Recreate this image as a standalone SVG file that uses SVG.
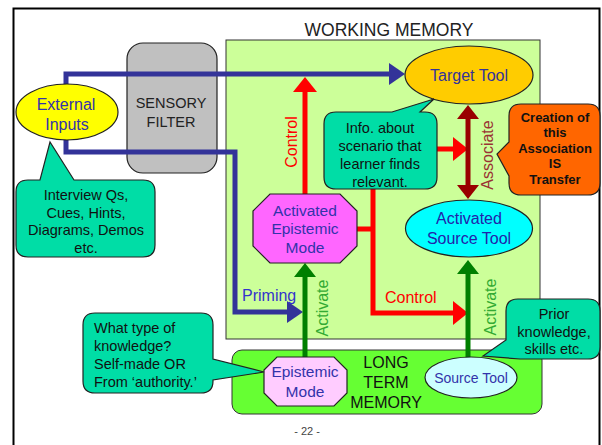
<svg xmlns="http://www.w3.org/2000/svg" width="602" height="445" viewBox="0 0 602 445">
<style>
text{font-family:"Liberation Sans",Arial,sans-serif}
.ol{stroke:#222;stroke-width:1.2}
.call{fill:#00DDA6;stroke:#222;stroke-width:1.2}
.blue{fill:none;stroke:#333399;stroke-width:5}
.red{fill:none;stroke:#FF0000;stroke-width:5}
.dred{fill:none;stroke:#990000;stroke-width:5}
.grn{fill:none;stroke:#007F00;stroke-width:5}
.nt{fill:#3333AA;font-size:16px;text-anchor:middle}
.ct{fill:#111;font-size:14.5px;text-anchor:middle}
</style>
<defs>
<marker id="ab" markerUnits="userSpaceOnUse" markerWidth="16" markerHeight="22" viewBox="0 0 16 22" refX="2" refY="11" orient="auto"><path d="M0,0 L16,11 L0,22 z" fill="#333399"/></marker>
<marker id="ar" markerUnits="userSpaceOnUse" markerWidth="15" markerHeight="24" viewBox="0 0 15 24" refX="2" refY="12" orient="auto"><path d="M0,0 L15,12 L0,24 z" fill="#FF0000"/></marker>
<marker id="ad" markerUnits="userSpaceOnUse" markerWidth="14" markerHeight="22" viewBox="0 0 14 22" refX="2" refY="11" orient="auto-start-reverse"><path d="M0,0 L14,11 L0,22 z" fill="#990000"/></marker>
<marker id="ag" markerUnits="userSpaceOnUse" markerWidth="14" markerHeight="22" viewBox="0 0 14 22" refX="2" refY="11" orient="auto"><path d="M0,0 L14,11 L0,22 z" fill="#007F00"/></marker>
</defs>
<rect x="0" y="0" width="602" height="445" fill="#fff"/>
<rect x="13.5" y="8.5" width="586" height="450" fill="none" stroke="#000" stroke-width="2"/>

<g id="working-memory">
<rect x="226" y="40" width="314" height="299" fill="#CCFF99" stroke="#333" stroke-width="1"/>
<text x="389" y="36" font-size="17.5" text-anchor="middle" fill="#222">WORKING MEMORY</text>
</g>
<g id="long-term-memory">
<rect x="232" y="350" width="310" height="64" rx="10" fill="#66FF33" stroke="#333" stroke-width="1"/>
<text x="386" y="368" font-size="16" text-anchor="middle" fill="#111">LONG</text>
<text x="386" y="388" font-size="16" text-anchor="middle" fill="#111">TERM</text>
<text x="386" y="408" font-size="16" text-anchor="middle" fill="#111">MEMORY</text>
</g>
<g id="sensory-filter">
<rect x="127" y="43" width="90" height="130" rx="16" fill="#C0C0C0" class="ol"/>
<text x="171" y="108" font-size="14.5" text-anchor="middle" fill="#222">SENSORY</text>
<text x="171" y="127" font-size="14.5" text-anchor="middle" fill="#222">FILTER</text>
</g>

<g id="connectors">
<path class="blue" d="M66 88 V74 H391" marker-end="url(#ab)"/>
<path class="blue" d="M66 136 V152 H235 V312 H289" marker-end="url(#ab)"/>
<text x="242" y="301" font-size="16" fill="#3333CC">Priming</text>
<path class="red" d="M305 196 V90" marker-end="url(#ar)"/>
<text transform="translate(297,142) rotate(-90)" font-size="16" text-anchor="middle" fill="#FF0000">Control</text>
<path class="red" d="M355 229 H373"/>
<path class="red" d="M373 187 V313 H455" marker-end="url(#ar)"/>
<text x="385" y="303" font-size="16" fill="#FF0000">Control</text>
<path class="red" d="M435 149 H455" marker-end="url(#ar)"/>
<path class="dred" d="M468 117 V187" marker-start="url(#ad)" marker-end="url(#ad)"/>
<text transform="translate(493,155) rotate(-90)" font-size="16" text-anchor="middle" fill="#993333">Associate</text>
<path class="grn" d="M305 358 V275" marker-end="url(#ag)"/>
<text transform="translate(328,308) rotate(-90)" font-size="16" text-anchor="middle" fill="#33AA33">Activate</text>
<path class="grn" d="M468 358 V272" marker-end="url(#ag)"/>
<text transform="translate(496,307) rotate(-90)" font-size="16" text-anchor="middle" fill="#33AA33">Activate</text>
</g>

<g id="external-inputs">
<ellipse cx="67" cy="112" rx="51" ry="28" fill="#FFFF00" class="ol"/>
<text class="nt" x="66" y="110">External</text>
<text class="nt" x="67" y="130">Inputs</text>
</g>
<g id="inputs-callout">
<path class="call" d="M28 180 H40 L50 142 L74 180 H143 Q155 180 155 192 V245 Q155 257 143 257 H28 Q16 257 16 245 V192 Q16 180 28 180 Z"/>
<text class="ct" x="86" y="200">Interview Qs,</text>
<text class="ct" x="86" y="218">Cues, Hints,</text>
<text class="ct" x="86" y="235">Diagrams, Demos</text>
<text class="ct" x="86" y="253">etc.</text>
</g>
<g id="target-tool">
<ellipse cx="469" cy="75" rx="64" ry="29" fill="#FFCC00" class="ol"/>
<text x="469" y="81" font-size="16" text-anchor="middle" fill="#333399">Target Tool</text>
</g>
<g id="info-callout">
<path class="call" d="M336 112 H392 L434 99 L420 112 H425 Q437 112 437 124 V177 Q437 189 425 189 H336 Q324 189 324 177 V124 Q324 112 336 112 Z"/>
<text class="ct" x="380" y="133">Info. about</text>
<text class="ct" x="380" y="151">scenario that</text>
<text class="ct" x="380" y="169">learner finds</text>
<text class="ct" x="380" y="187">relevant.</text>
</g>
<g id="transfer-callout">
<path d="M521 104 H588 Q600 104 600 116 V183 Q600 195 588 195 H521 Q509 195 509 183 V176 L497 154 L509 142 V116 Q509 104 521 104 Z" fill="#FF6600" class="ol"/>
<g font-size="13" font-weight="bold" text-anchor="middle" fill="#111">
<text x="555" y="122">Creation of</text>
<text x="555" y="137">this</text>
<text x="555" y="153">Association</text>
<text x="555" y="168">IS</text>
<text x="555" y="184">Transfer</text>
</g>
</g>
<g id="activated-epistemic-mode">
<polygon points="270,194 340,194 357,211 357,246 340,263 270,263 253,246 253,211" fill="#FF66FF" class="ol"/>
<text x="305" y="216" font-size="15.5" text-anchor="middle" fill="#3333AA">Activated</text>
<text x="305" y="234" font-size="15.5" text-anchor="middle" fill="#3333AA">Epistemic</text>
<text x="305" y="253" font-size="15.5" text-anchor="middle" fill="#3333AA">Mode</text>
</g>
<g id="activated-source-tool">
<ellipse cx="469" cy="228.5" rx="63.5" ry="28.5" fill="#00FFFF" class="ol"/>
<text x="469" y="224" font-size="16" text-anchor="middle" fill="#2222AA">Activated</text>
<text x="469" y="244" font-size="16" text-anchor="middle" fill="#2222AA">Source Tool</text>
</g>
<g id="prior-callout">
<path class="call" d="M518 299 H588 Q600 299 600 311 V347 Q600 359 588 359 H520 L483 356 L506 340 V311 Q506 299 518 299 Z"/>
<text class="ct" x="554" y="319">Prior</text>
<text class="ct" x="554" y="337">knowledge,</text>
<text class="ct" x="554" y="354">skills etc.</text>
</g>
<g id="epistemic-mode">
<polygon points="277,357 334,357 347,370 347,393 334,406 277,406 264,393 264,370" fill="#FFCCFF" class="ol"/>
<text x="305" y="377" font-size="15.5" text-anchor="middle" fill="#3333AA">Epistemic</text>
<text x="305" y="397" font-size="15.5" text-anchor="middle" fill="#3333AA">Mode</text>
</g>
<g id="source-tool">
<ellipse cx="471" cy="377.5" rx="46" ry="20.5" fill="#CCFFFF" class="ol"/>
<text x="471" y="383" font-size="14" text-anchor="middle" fill="#3333AA">Source Tool</text>
</g>
<g id="knowledge-callout">
<path class="call" d="M95 313 H201 Q213 313 213 325 V359 L264 372 L213 380 V381 Q213 393 201 393 H95 Q83 393 83 381 V325 Q83 313 95 313 Z"/>
<g font-size="14.5" fill="#111">
<text x="94" y="333">What type of</text>
<text x="94" y="351">knowledge?</text>
<text x="94" y="369">Self-made OR</text>
<text x="94" y="387">From ‘authority.’</text>
</g>
</g>
<text x="307" y="435" font-size="11" text-anchor="middle" fill="#444">- 22 -</text>
</svg>
